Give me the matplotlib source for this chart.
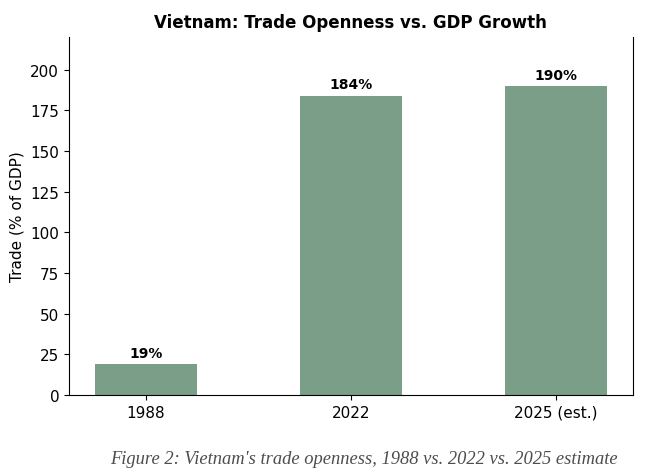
import matplotlib.pyplot as plt

years = ['1988', '2022', '2025 (est.)']
trade_pct = [19, 184, 190]
bar_labels = ['19%', '184%', '190%']

fig = plt.figure(figsize=(6.47, 4.77), dpi=100)
ax = fig.add_axes([0.1066, 0.1698, 0.8714, 0.7505])

x = range(len(years))
bars = ax.bar(x, trade_pct, width=0.5, color='#7a9e88')
ax.set_xticks(list(x), years, fontsize=11)
ax.tick_params(axis='y', labelsize=11)
ax.set_ylim(0, 220)
ax.set_ylabel('Trade (% of GDP)', fontsize=11)
ax.set_title('Vietnam: Trade Openness vs. GDP Growth', fontsize=12, fontweight='bold', pad=7)
ax.spines['top'].set_visible(False)

for b, lab in zip(bars, bar_labels):
    ax.annotate(lab, (b.get_x() + b.get_width() / 2, b.get_height()),
                xytext=(0, 3), textcoords='offset points',
                ha='center', va='bottom', fontsize=10, fontweight='bold')

fig.text(0.563, 0.036, "Figure 2: Vietnam's trade openness, 1988 vs. 2022 vs. 2025 estimate",
         ha='center', va='center', fontsize=13.3, style='italic',
         family='Liberation Serif', color='#4d4d4d')

fig.savefig('out.png', dpi=100)
